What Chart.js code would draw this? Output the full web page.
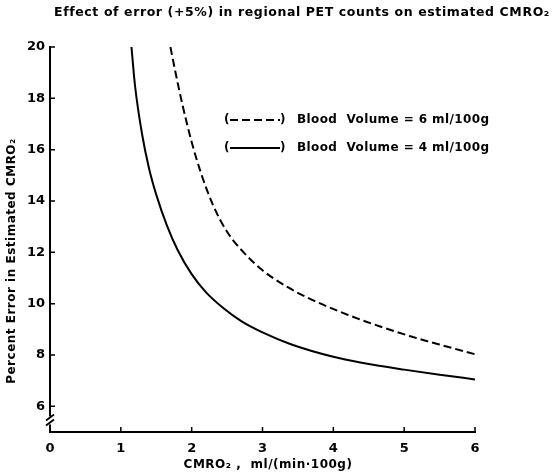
<!DOCTYPE html>
<html>
<head>
<meta charset="utf-8">
<script src="https://cdn.jsdelivr.net/npm/chart.js@4"></script>
<style>
  body { margin: 0; background: #fff; }
  #wrap { width: 560px; height: 474px; }
</style>
</head>
<body>
<div id="wrap"><canvas id="cmro2"></canvas></div>
<script>
// values
var solidX  = [1.15, 1.2, 1.3, 1.4, 1.5, 1.65, 1.8, 2.0, 2.2, 2.45, 2.7, 3.0, 3.4, 4.0, 4.4, 5.0, 5.5, 6.0];
var solidY  = [20.0, 18.5, 16.6, 15.25, 14.25, 13.05, 12.1, 11.15, 10.45, 9.82, 9.32, 8.88, 8.42, 7.93, 7.7, 7.43, 7.23, 7.05];
var dashedX = [1.70, 1.78, 1.87, 2.0, 2.13, 2.3, 2.5, 2.75, 3.0, 3.35, 3.7, 4.2, 4.65, 5.1, 5.6, 6.0];
var dashedY = [20.0, 18.9, 17.75, 16.3, 15.1, 13.85, 12.8, 11.95, 11.3, 10.65, 10.15, 9.57, 9.12, 8.72, 8.33, 8.03];
var seriesLabels = ['Blood  Volume = 6 ml/100g', 'Blood  Volume = 4 ml/100g'];
var yTicks = [6, 8, 10, 12, 14, 16, 18, 20];
var xTicks = [0, 1, 2, 3, 4, 5, 6];
var chartTitle = 'Effect of error (+5%) in regional PET counts on estimated CMRO\u2082';
var yTitle = 'Percent Error in Estimated CMRO\u2082';
var xTitle = 'CMRO\u2082 ,  ml/(min\u00b7100g)';

var FONT = "'DejaVu Sans', sans-serif";

function pts(xs, ys) {
  var out = [];
  for (var i in xs) out.push({ x: xs[i], y: ys[i] });
  return out;
}

// titles, inward ticks, axis break and the hand-drawn legend
var decor = {
  id: 'decor',
  afterDraw: function (chart) {
    var ctx = chart.ctx;
    var xs = chart.scales.x, ys = chart.scales.y;
    var area = chart.chartArea;
    ctx.save();
    ctx.fillStyle = '#000';
    ctx.textBaseline = 'middle';
    ctx.textAlign = 'center';
    ctx.font = 'bold 12.5px ' + FONT;
    ctx.letterSpacing = '0.6px';
    ctx.fillText(chartTitle, 302, 13);

    ctx.font = 'bold 12px ' + FONT;
    ctx.letterSpacing = '0.5px';
    ctx.fillText(xTitle, 268, 465);

    ctx.save();
    ctx.translate(12, 261);
    ctx.rotate(-Math.PI / 2);
    ctx.fillText(yTitle, 0, 0);
    ctx.restore();

    ctx.strokeStyle = '#000';
    ctx.lineWidth = 1.5;
    ctx.beginPath();
    xTicks.forEach(function (v) {
      var px = xs.getPixelForValue(v);
      ctx.moveTo(px, area.bottom);
      ctx.lineTo(px, area.bottom - 5);
    });
    yTicks.forEach(function (v) {
      var py = ys.getPixelForValue(v);
      ctx.moveTo(area.left, py);
      ctx.lineTo(area.left + 5, py);
    });
    ctx.stroke();

    // axis break under the 6 tick
    var bx = area.left, by = ys.getPixelForValue(5.45);
    ctx.fillStyle = '#fff';
    ctx.fillRect(bx - 3, by - 4, 6, 8);
    ctx.lineWidth = 1.8;
    ctx.beginPath();
    ctx.moveTo(bx - 4, by);     ctx.lineTo(bx + 4, by - 6);
    ctx.moveTo(bx - 4, by + 5); ctx.lineTo(bx + 4, by - 1);
    ctx.stroke();

    // legend
    chart.data.datasets.forEach(function (ds, i) {
      var ly = 120 + i * 28;
      ctx.fillStyle = '#000';
      ctx.font = 'bold 12px ' + FONT;
      ctx.letterSpacing = '0px';
      ctx.textAlign = 'left';
      ctx.fillText('(', 224, ly);
      ctx.fillText(')', 280, ly);
      ctx.setLineDash(ds.borderDash || []);
      ctx.lineWidth = 2;
      ctx.beginPath();
      ctx.moveTo(230, ly);
      ctx.lineTo(280, ly);
      ctx.stroke();
      ctx.setLineDash([]);
      ctx.letterSpacing = '0.4px';
      ctx.fillText(ds.label, 297, ly);
    });
    ctx.restore();
  }
};

var data = {
  datasets: [
    {
      label: seriesLabels[0],
      data: pts(dashedX, dashedY),
      borderColor: '#000',
      borderWidth: 2,
      borderDash: [8, 4],
      pointRadius: 0,
      cubicInterpolationMode: 'monotone',
      fill: false
    },
    {
      label: seriesLabels[1],
      data: pts(solidX, solidY),
      borderColor: '#000',
      borderWidth: 2,
      pointRadius: 0,
      cubicInterpolationMode: 'monotone',
      fill: false
    }
  ]
};

var options = {
  responsive: true,
  maintainAspectRatio: false,
  animation: false,
  layout: { padding: { top: 47, right: 85, bottom: 0, left: 0 } },
  plugins: {
    legend: { display: false },
    title: { display: false },
    tooltip: { enabled: false }
  },
  scales: {
    x: {
      type: 'linear',
      min: 0,
      max: 6,
      afterFit: function (s) { s.height = 42; },
      afterBuildTicks: function (s) { s.ticks = xTicks.map(function (v) { return { value: v }; }); },
      grid: { drawOnChartArea: false, drawTicks: false },
      border: { color: '#000', width: 2 },
      ticks: { color: '#000', padding: 9, font: { family: FONT, size: 13, weight: 'bold' } },
      title: { display: false }
    },
    y: {
      min: 5,
      max: 20,
      afterFit: function (s) { s.width = 50; },
      afterBuildTicks: function (s) { s.ticks = yTicks.map(function (v) { return { value: v }; }); },
      grid: { drawOnChartArea: false, drawTicks: false },
      border: { color: '#000', width: 2 },
      ticks: { color: '#000', padding: 5, font: { family: FONT, size: 13, weight: 'bold' } },
      title: { display: false }
    }
  }
};

var ctx = document.getElementById('cmro2');
var myChart = new Chart(ctx, {
  type: 'line',
  data: data,
  options: options,
  plugins: [decor]
});
</script>
</body>
</html>
